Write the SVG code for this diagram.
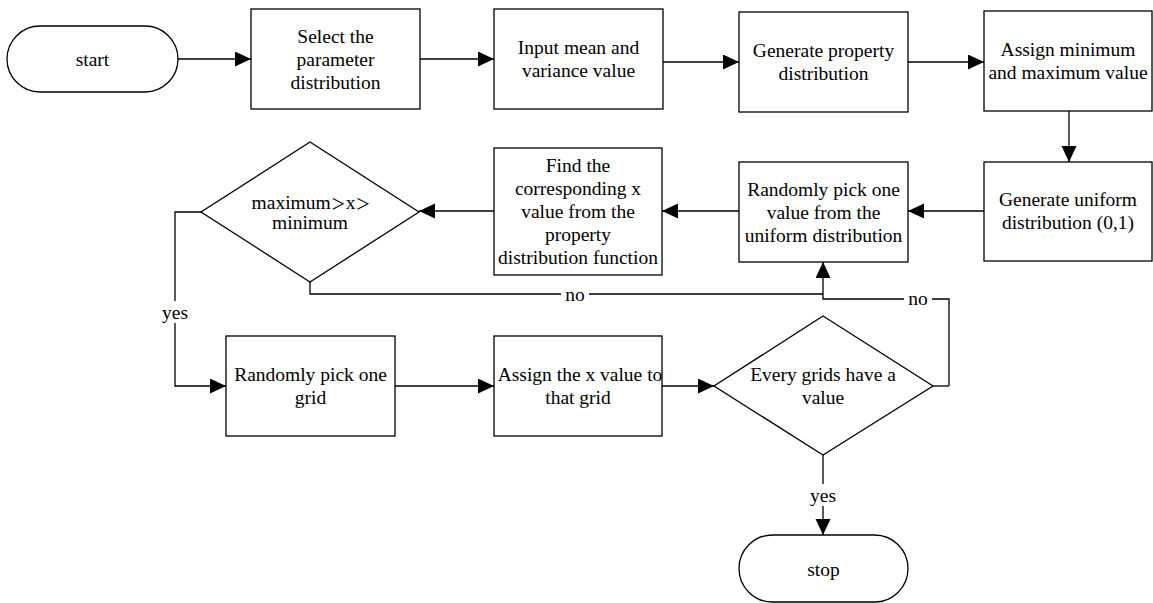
<svg xmlns="http://www.w3.org/2000/svg" width="1153" height="603" viewBox="0 0 1153 603">
<style>
.s{fill:#fff;stroke:#000;stroke-width:1.3}
.c{fill:none;stroke:#000;stroke-width:1.3}
text{font-family:"Liberation Serif","Noto Sans CJK SC",serif;font-size:19.5px;fill:#000;text-anchor:middle}
.gt{font-family:"Noto Sans CJK SC","Liberation Serif",sans-serif;font-size:15px}
.bg{fill:#fff;stroke:none}
</style>
<defs>
<marker id="a" markerUnits="userSpaceOnUse" markerWidth="17" markerHeight="16" refX="16" refY="7.5" orient="auto">
<path d="M0,0 L16,7.5 L0,15 z" fill="#000"/>
</marker>
</defs>
<g id="connectors">
<path class="c" d="M178,59 H251" marker-end="url(#a)"/>
<path class="c" d="M420,59 H494" marker-end="url(#a)"/>
<path class="c" d="M663,62 H739" marker-end="url(#a)"/>
<path class="c" d="M908,62 H984" marker-end="url(#a)"/>
<path class="c" d="M1069,111 V162" marker-end="url(#a)"/>
<path class="c" d="M984,211 H908" marker-end="url(#a)"/>
<path class="c" d="M739,211 H662" marker-end="url(#a)"/>
<path class="c" d="M494,211 H419" marker-end="url(#a)"/>
<path class="c" d="M201,212 H175 V386 H226" marker-end="url(#a)"/>
<path class="c" d="M310,282 V294 H823"/>
<path class="c" d="M949,386 V299 H823 V262" marker-end="url(#a)"/>
<path class="c" d="M933,386 H949"/>
<path class="c" d="M395,386 H494" marker-end="url(#a)"/>
<path class="c" d="M662,386 H714" marker-end="url(#a)"/>
<path class="c" d="M823,455 V535" marker-end="url(#a)"/>
<rect class="bg" x="163" y="301" width="24" height="22"/>
<text x="175" y="319">yes</text>
<rect class="bg" x="561" y="287" width="28" height="16"/>
<text x="575" y="301">no</text>
<rect class="bg" x="904" y="291" width="28" height="16"/>
<text x="918" y="305">no</text>
<rect class="bg" x="811" y="484" width="24" height="22"/>
<text x="823" y="502">yes</text>
</g>
<g id="start">
<rect class="s" x="7" y="26" width="171" height="66" rx="33" ry="33"/>
<text x="92.5" y="66">start</text>
</g>
<g id="select">
<rect class="s" x="251" y="9" width="169" height="100"/>
<text x="335.5" y="42.5">Select the</text>
<text x="335.5" y="65.5">parameter</text>
<text x="335.5" y="88.5">distribution</text>
</g>
<g id="input">
<rect class="s" x="494" y="9" width="169" height="100"/>
<text x="578.5" y="54">Input mean and</text>
<text x="578.5" y="77">variance value</text>
</g>
<g id="genprop">
<rect class="s" x="739" y="12" width="169" height="100"/>
<text x="823.5" y="57">Generate property</text>
<text x="823.5" y="80">distribution</text>
</g>
<g id="assignminmax">
<rect class="s" x="984" y="11" width="168" height="100"/>
<text x="1068" y="56">Assign minimum</text>
<text x="1068" y="79">and maximum value</text>
</g>
<g id="genuniform">
<rect class="s" x="984" y="162" width="168" height="99"/>
<text x="1068" y="206">Generate uniform</text>
<text x="1068" y="229">distribution (0,1)</text>
</g>
<g id="pickvalue">
<rect class="s" x="739" y="162" width="169" height="100"/>
<text x="823.5" y="196">Randomly pick one</text>
<text x="823.5" y="219">value from the</text>
<text x="823.5" y="242">uniform distribution</text>
</g>
<g id="findx">
<rect class="s" x="494" y="148" width="168" height="127"/>
<text x="578" y="172">Find the</text>
<text x="578" y="195">corresponding x</text>
<text x="578" y="218">value from the</text>
<text x="578" y="241">property</text>
<text x="578" y="264">distribution function</text>
</g>
<g id="checkrange">
<polygon class="s" points="310,142 419,212 310,282 201,212"/>
<text x="311" y="209">maximum<tspan class="gt">＞</tspan>x<tspan class="gt">＞</tspan></text>
<text x="310" y="229">minimum</text>
</g>
<g id="pickgrid">
<rect class="s" x="226" y="336" width="169" height="100"/>
<text x="310.5" y="381">Randomly pick one</text>
<text x="310.5" y="404">grid</text>
</g>
<g id="assignx">
<rect class="s" x="494" y="336" width="168" height="100"/>
<text x="580" y="381">Assign the x value to</text>
<text x="578" y="404">that grid</text>
</g>
<g id="everygrid">
<polygon class="s" points="823,316 933,386 823,455 714,386"/>
<text x="823" y="381">Every grids have a</text>
<text x="823" y="404">value</text>
</g>
<g id="stop">
<rect class="s" x="739" y="535" width="169" height="67" rx="33.5" ry="33.5"/>
<text x="823.5" y="576">stop</text>
</g>
</svg>
